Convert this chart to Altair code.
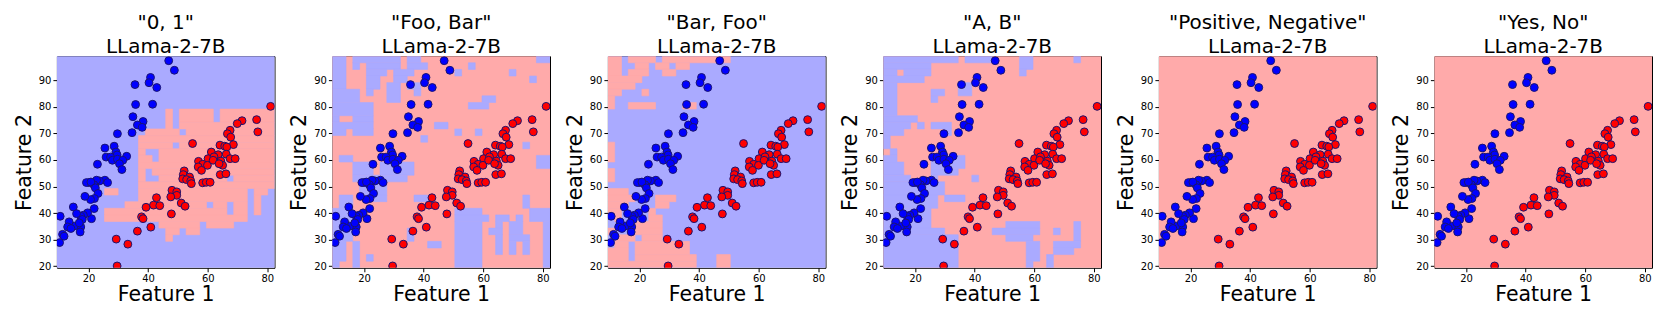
import altair as alt
import pandas as pd

# ---------------- data ----------------
X_MIN, X_MAX = 9.4, 82.4
Y_MIN, Y_MAX = 19.4, 99.1

titles = ['"0, 1"', '"Foo, Bar"', '"Bar, Foo"', '"A, B"', '"Positive, Negative"', '"Yes, No"']
model = "LLama-2-7B"
x_ticks = [20, 40, 60, 80]
y_ticks = [20, 30, 40, 50, 60, 70, 80, 90]

blue_x = [46.9, 48.8, 40.8, 40.3, 42.9, 35.6, 35.8, 41.5, 34.9, 38.3, 36.4, 38.0, 34.6, 29.7, 28.6,
          25.5, 29.2, 29.6, 25.9, 27.4, 32.8, 28.0, 29.7, 31.5, 30.4, 31.2, 23.0, 25.5, 26.4, 23.7,
          22.7, 20.1, 19.3, 21.8, 20.8, 22.3, 23.2, 22.0, 20.7, 18.8, 21.9, 21.0, 19.7, 18.3, 17.4,
          17.9, 14.9, 16.0, 17.4, 17.2, 15.2, 13.5, 13.0, 14.1, 11.3, 11.8, 10.5, 10.3, 16.9]
blue_y = [97.4, 93.8, 91.1, 89.1, 87.3, 88.4, 80.9, 81.0, 76.3, 74.5, 73.2, 72.3, 70.3, 69.9, 65.2,
          64.5, 63.0, 61.9, 61.1, 61.1, 61.4, 59.9, 60.3, 59.9, 58.6, 56.4, 58.4, 52.4, 51.5, 52.1,
          52.4, 51.5, 51.5, 50.7, 51.7, 49.5, 47.4, 45.5, 45.1, 46.3, 41.7, 37.9, 40.1, 39.2, 38.8,
          37.6, 42.3, 39.8, 34.8, 32.9, 35.1, 36.7, 34.8, 34.2, 32.0, 31.3, 38.8, 28.9, 36.3]
red_x = [81.1, 76.4, 76.8, 71.5, 69.9, 67.5, 66.6, 67.7, 54.9, 64.1, 65.7, 68.6, 66.4, 61.2, 66.2,
         63.5, 60.1, 62.1, 67.5, 69.2, 56.9, 58.3, 59.9, 61.8, 64.4, 65.0, 63.8, 56.8, 57.9, 52.1,
         51.8, 51.6, 53.9, 52.9, 54.3, 54.5, 58.3, 59.5, 60.8, 64.2, 66.1, 48.0, 49.6, 49.6, 47.6,
         42.8, 51.1, 52.4, 41.8, 43.9, 39.3, 37.8, 38.3, 47.8, 40.9, 36.4, 29.3, 33.2, 29.6]
red_y = [80.2, 75.2, 70.6, 74.8, 73.7, 71.2, 69.9, 68.6, 66.2, 65.6, 65.2, 65.8, 64.9, 63.0, 62.2,
         62.0, 60.5, 61.2, 60.5, 60.5, 59.5, 58.4, 58.0, 59.9, 59.6, 58.0, 58.6, 57.4, 56.1, 55.9,
         54.5, 52.9, 53.6, 52.6, 52.1, 51.1, 51.4, 51.6, 51.6, 54.5, 54.8, 48.6, 48.0, 46.7, 46.1,
         45.8, 43.8, 42.6, 43.0, 42.8, 42.2, 38.6, 37.9, 39.7, 34.7, 33.2, 30.2, 28.3, 20.1]

# decision regions, read row by row from the top (P = pink / class 0, B = blue / class 1)
grid_01 = [
    "BBBBBBBBBBBBBBBBBBBBBBBBBBBBBBBB",
    "BBBBBBBBBBBBBBBBBBBBBBBBBBBBBBBB",
    "BBBBBBBBBBBBBBBBBBBBBBBBBBBBBBBB",
    "BBBBBBBBBBBBBBBBBBBBBBBBBBBBBBBB",
    "BBBBBBBBBBBBBBBBBBBBBBBBBBBBBBBB",
    "BBBBBBBBBBBBBBBBBBBBBBBBBBBBBBBB",
    "BBBBBBBBBBBBBBBBBBBBBBBBBBBBBBBB",
    "BBBBBBBBBBBBBBBBBBBBBBBBBBBBBBBB",
    "BBBBBBBBBBBBBBBBPBPPPPPBPPPPPPPP",
    "BBBBBBBBBBBBBBBBPBPPPPPBPPPPPPPP",
    "BBBBBBBBBBBBBBBBPBPPPPPPPPPPPPPP",
    "BBBBBBBBBBBBBPPPPPBPPPPPPPPPPPPP",
    "BBBBBBBBBBBBPPPPPPPPPPPPPPPPPPPP",
    "BBBBBBBBBBBBPPPPPBPPPPPPPPPPPPPP",
    "BBBBBBBBBBBBPBBPPPPPPPPPPPPPPPPP",
    "BBBBBBBBBBBBPPBPPPPPPPPPPPPPPPPP",
    "BBBBBBBBBBBBPPPPPPPPPPPPPPPPPPPP",
    "BBBBBBBBBBBBPBPPPPPPPPPPPPPPPPPP",
    "BBBBBBBBBBBBPBBPPPPPPPPPPBPPPPPP",
    "BBBBBBBBBBBBPPPPPPPPPPPPPPPPPPPP",
    "BBBBBBBPPBBBPPPPPPPPPPPPPPPPBPPB",
    "BBBBBBBBBBBBPPPPPPPPPPPPPPPPBPBB",
    "BBBBBBBBBBPPPPPPPPPPPPBPPBPPBPBB",
    "BBBBBBBPPPPPPPPPPPPPPPPPPBPPBPBB",
    "BBBBBBBPPPPPPPPPPPPPPPPPPPPPBBBB",
    "BBBBBBBBBBBBBBBPPPPPPBPPPPBBBBBB",
    "BBBBBBBBBBBBBBBBPPBPPBBBBBBBBBBB",
    "BBBBBBBBBBBBBBBBPBBBBBBBBBBBBBBB",
    "BBBBBBBBBBBBBBBBBBBBBBBBBBBBBBBB",
    "BBBBBBBBBBBBBBBBBBBBBBBBBBBBBBBB",
    "BBBBBBBBBBBBBBBBBBBBBBBBBBBBBBBB",
    "BBBBBBBBBBBBBBBBBBBBBBBBBBBBBBBB",
]
grid_foo_bar = [
    "BBPBBBBBBBPBBPPPPPPPPPPPPPPPPPBB",
    "BBPBPBBBBBPBBBPPPPPPBPPPPPPPPPPP",
    "BBPPPBBBPBBBPPPPPPBPPPPPPPBPPPPP",
    "BBPPPBBPPBBPPPPPPPPPPPPPPPPPPBPP",
    "BBPPPBBPBBPBBPPPPPPPPPPPPPPPPPPP",
    "BBBBPBPPBBPPBPPPPPPPPPPPPPPPPPPP",
    "BBBBPPPPBBPPPPPPPPPPPPBBPPPPPPPP",
    "BBBBBBPPPPPPPPPPPPPPBBBPPPPPPPPP",
    "BBBBBBPPPPPPPPPPPPPPPPPPPPPPPPPP",
    "BPPBBBPPPPPPPPPPPPPPPPPPPPPPPPPP",
    "BBBBBBPPPPPPPPPBBPPPPPPPPPPPPPPP",
    "BBPBBBPPPPPPPPPPPPBPPBPPPPPPPPPP",
    "PPPPPPPPPPPPPBPPPPPPPPPPPPPPPPPP",
    "PPPPPPPPPPPPPPPPPPPPPPPPPPPPBPPP",
    "PPPPPPPPPPPPPPPPPPPPPPPPPPPPPPPP",
    "PBBPPPPPPPPPPPPPPPPPPPPPPPPPPPBB",
    "PPPBBBPBBBBBPPPPPPPPPPPPPPPPPPBB",
    "PPPBBBPBBBBBPPPPPPPPPPPPPPPPPPPP",
    "PPPBBBBBBBBPPPPPPPPPPPPPPPPPPPPP",
    "PPPPBBBBPPPPPPPPPPPPPPPPPPPPPPPP",
    "PPPPBBBBPPPPPPPPPPPPPPPPPPPPPPPP",
    "PBBPPPBBPPPPBBPPPPPPPPPPPPPPBPPP",
    "PBBPPPPPPPPPPPPPPPPPPPPPPPPPBPPP",
    "BBBPPPPPPPPPPPPPPPBBBBPPPPPPPBBB",
    "BBBPPPPPPPPPPPPPPPBBBBBPBBPBPBBB",
    "BBBPPPPPPPPPPPPPPPBBBBPPBPBBPPPB",
    "BBBPPPPPPPPBPPPPPPBBBBPBBPBBPPPB",
    "BBBPPPPPPPPBPPPPPPBBBBPPBPBBBPPB",
    "BBPBPPPPPPPPPPBBPPBBBBPPBPBPBPPB",
    "BBPBPPPPPPPPPPPPPPBBBBPPBPBPBPPB",
    "BBPBPBPPPPPPPPPPPPBBBBPPPPPPPPPB",
    "BPPBPPPPPPPPPPPPPPBBBBPPPPPPPPPB",
]
grid_bar_foo = [
    "PPBPPPPBPPPPPPPPPPBBBBBBBBBBBBBB",
    "PPBBPPBPPBPPBBBBBBBBBBBBBBBBBBBB",
    "PPBPPPBBPPBBBBBBBBBBBBBBBBBBBBBB",
    "PPPPPBBBBBBBBBBBBBBBBBBBBBBBBBBB",
    "PPPPBBBBBBBBBBBBBBBBBBBBBBBBBBBB",
    "PPBBBPBBBBBBBBBBBBBBBBBBBBBBBBBB",
    "PBBBBBBBBBBBBBBBBBBBBBBBBBBBBBBB",
    "PBBPPPPBBBBPPBBBBBBBBBBBBBBBBBBB",
    "BBBBBBBBBBBBBBBBBBBBBBBBBBBBBBBB",
    "BBBBBBBBBBBBBBBBBBBBBBBBBBBBBBBB",
    "BBBBBBBBBBBBBBBBBBBBBBBBBBBBBBBB",
    "BBBBBBBBBBBBBBBBBBBBBBBBBBBBBBBB",
    "BBBBBBBBBBBBBBBBBBBBBBBBBBBBBBBB",
    "PBBBBBBBBBBBBBBBBBBBBBBBBBBBBBBB",
    "PBBBBBBBBBBBBBBBBBBBBBBBBBBBBBBB",
    "PBBBBBBBBBBBBBBBBBBBBBBBBBBBBBBB",
    "BBBBBBBBBBBBBBBBBBBBBBBBBBBBBBBB",
    "PBBBBBBBBBBBBBBBBBBBBBBBBBBBBBBB",
    "PBBBBBBBBBBBBBBBBBBBBBBBBBBBBBBB",
    "BBBBBBBBBBBBBBBBBBBBBBBBBBBBBBBB",
    "PPPBBBBBBBBBBBBBBBBBBBBBBBBBBBBB",
    "PPPPBBBPPPBBBBBBBBBBBBBBBBBBBBBB",
    "PPPBBBBPPBBBBBBBBBBBBBBBBBBBBBBB",
    "PPBBBBPBBBBBBBBBBBBBBBBBBBBBBBBB",
    "BPBBBBPPBBBBBBBBBBBBBBBBBBBBBBBB",
    "BBBBPPPPBBBBBBBBBBBBBBBBBBBBBBBB",
    "PBBPPPPPBBBBBBBBBBBBBBBBBBBBBBBB",
    "BPPPBPPPBBBBBBBBBBBBBBBBBBBBBBBB",
    "BPPBPPPPPPPPBBBBBBBBBBBBBBBBBBBB",
    "PPPBPPPPPPPPBBBBBBBBBBBBBBBBBBBB",
    "PPPBPPPPPPPPPBBBPPBBBBBBBBBBBBBB",
    "PPPPPPPPPPPPPBBBPPBBBBBBBBBBBBBB",
]
grid_a_b = [
    "BBBBBBBBBBBPBBBBPPPPBBPPPPPPBPPP",
    "BBBBBBBPPPPPPPPPPPPPBBPPPPPPPPPP",
    "BBPBBBBPPPPPPPPPPPPPBPPPPPPPPPPP",
    "BBBBBBPPPPPPPPPPPPPPPPPPPPPPPPPP",
    "BBPPPPPPPPPBBPPPPPPPPPPPPPPPPPPP",
    "BBPPPPPBBPPBBPPPPPPPPPPPPPPPPPPP",
    "BBPPPPPBPPPPPPPPPPPPPPPPPPPPPPPP",
    "BBPPPPPPPPPPPPPPPPPPPPPPPPPPPPPP",
    "BBPPPPPPPPPPPPPPPPPPPPPPPPPPPPPP",
    "BBBBBPPPPPPPPPPPPPPPPPPPPPPPPPPP",
    "BBBBPBPBBBPPPPPPPPPPPPPPPPPPPPPP",
    "BBBPPPPPPBPPPPPPPPPPPPPPPPPPPPPP",
    "BPPPPPPPPPPPPPPPPPPPPPPPPPPPPPPP",
    "BPPPPPPPPPPPPPPPPPPPPPPPPPPPPPPP",
    "PBPPPPPPPPPPPPPPPPPPPPPPPPPPPPPP",
    "BBPPPPPBBBBBPPPPPPPPPPPPPPPPPPPP",
    "BBBPPPPBBBBBPPPPPPPPPPPPPPPPPPPP",
    "BBBPPPPBBBBPPPPPPPPPPPPPPPPPPPPP",
    "BBBBPPPBPPPPPBPPPPPPPPPPPPPPPPPP",
    "BBBBBBBBBPPPPPPPPPPPPPPPPPPPPPPP",
    "BBBBBBBBBPPPPPPPPPPPPPPPPPPPPPPP",
    "BBBBBBBBPBBBPPPPPPPPPPPPPPPPPPPP",
    "BBBBBBBBPPPPPPPPPPPPPPPPPPPPPPPP",
    "BBBBBBBPPPPPPPPPPPPPPPPPPPPPPPPP",
    "BBBBBBBPPPPPPPPPPPPPPPPPPPPPPPPP",
    "BBBBBBBPPPPPPPPPPPBBBBBPPPPPBPPP",
    "BBBBBBBBBPPPPPPPBBBBBBBPPBPPBPPP",
    "BBBBBBBBBBBPPPPPPPBBBBPPPPPPBPPP",
    "BBBBBBBBBBBPPPPPPPPPPBBPPBBBBPPP",
    "BBBBBBBBBBBPPPPPPPPPPBBPPBBBPPPP",
    "BBBBBBBBBBBPPPPPPPPPPBBPBPPPPPPP",
    "BBBBBBBBBBBPPPPPPPPPPBPPBPPPPPPP",
]
grid_pos_neg = ["P" * 32] * 32
grid_yes_no = ["P" * 32] * 32
grids = [grid_01, grid_foo_bar, grid_bar_foo, grid_a_b, grid_pos_neg, grid_yes_no]

# ---------------- build tables ----------------
NCOLS = 32


def grid_table(grid):
    """Dominant class as one rect over the whole domain, other class as merged runs on top."""
    nrows = len(grid)
    dx = (X_MAX - X_MIN) / NCOLS
    dy = (Y_MAX - Y_MIN) / nrows
    rows = [(line + line[-1] * NCOLS)[:NCOLS] for line in grid]
    nb = sum(line.count("B") for line in rows)
    major = "B" if nb * 2 > NCOLS * nrows else "P"
    minor = "P" if major == "B" else "B"
    name = {"B": "blue", "P": "pink"}
    recs = [dict(x=X_MIN, x2=X_MAX, y=Y_MAX, y2=Y_MIN, region=name[major])]
    open_runs = {}
    for r, line in enumerate(rows + [major * NCOLS]):
        runs = set()
        c = 0
        while c < NCOLS:
            if line[c] != major:
                c2 = c
                while c2 < NCOLS and line[c2] != major:
                    c2 += 1
                runs.add((c, c2))
                c = c2
            else:
                c += 1
        for key in list(open_runs):
            if key not in runs:
                r0 = open_runs.pop(key)
                recs.append(dict(x=X_MIN + key[0] * dx, x2=X_MIN + key[1] * dx,
                                 y=Y_MAX - r0 * dy, y2=Y_MAX - r * dy,
                                 region=name[minor]))
        for key in runs:
            if key not in open_runs:
                open_runs[key] = r
    return pd.DataFrame(recs)


pts = pd.DataFrame({
    "f1": blue_x + red_x,
    "f2": blue_y + red_y,
    "label": ["blue"] * len(blue_x) + ["red"] * len(red_x),
})

FONT = "DejaVu Sans"
xscale = alt.Scale(domain=[X_MIN, X_MAX], nice=False, zero=False)
yscale = alt.Scale(domain=[Y_MIN, Y_MAX], nice=False, zero=False)
xaxis = alt.Axis(title="Feature 1", values=x_ticks, grid=False, domain=False, tickSize=4,
                 tickColor="black", labelFontSize=10, labelColor="black", labelFont=FONT,
                 titleFontSize=20.5, titleFont=FONT, titleFontWeight="normal", titleColor="black",
                 titlePadding=1, labelPadding=2)
yaxis = alt.Axis(title="Feature 2", values=y_ticks, grid=False, domain=False, tickSize=4,
                 tickColor="black", labelFontSize=10, labelColor="black", labelFont=FONT,
                 titleFontSize=20.5, titleFont=FONT, titleFontWeight="normal", titleColor="black",
                 titlePadding=4, labelPadding=2)

region_scale = alt.Scale(domain=["pink", "blue"], range=["#FFAAAA", "#AAAAFF"])
point_scale = alt.Scale(domain=["red", "blue"], range=["#FF0000", "#0000FF"])


def panel(i):
    bg = alt.Chart(grid_table(grids[i])).mark_rect(strokeWidth=0.6, clip=True).encode(
        x=alt.X("x:Q", scale=xscale, axis=xaxis),
        x2="x2:Q",
        y=alt.Y("y:Q", scale=yscale, axis=yaxis),
        y2="y2:Q",
        color=alt.Color("region:N", scale=region_scale, legend=None),
        stroke=alt.Stroke("region:N", scale=region_scale, legend=None),
    )
    dots = alt.Chart(pts).mark_circle(size=62, opacity=1, stroke="#1a1470", strokeWidth=1,
                                      clip=True).encode(
        x=alt.X("f1:Q", scale=xscale, axis=xaxis),
        y=alt.Y("f2:Q", scale=yscale, axis=yaxis),
        color=alt.Color("label:N", scale=point_scale, legend=None),
    )
    return alt.layer(bg, dots).resolve_scale(color="independent", stroke="independent").properties(
        width=218, height=212,
        title=alt.TitleParams(text=[titles[i], model], fontSize=20, font=FONT,
                              fontWeight="normal", color="black", anchor="middle",
                              lineHeight=24, offset=-1),
    )


chart = alt.hconcat(*[panel(i) for i in range(6)], spacing=13).configure_view(
    stroke="black", strokeWidth=1
).properties(padding={"left": 5, "right": 0, "top": 4, "bottom": 0})

chart.save("out.html", embed_options={"renderer": "svg", "actions": False})
